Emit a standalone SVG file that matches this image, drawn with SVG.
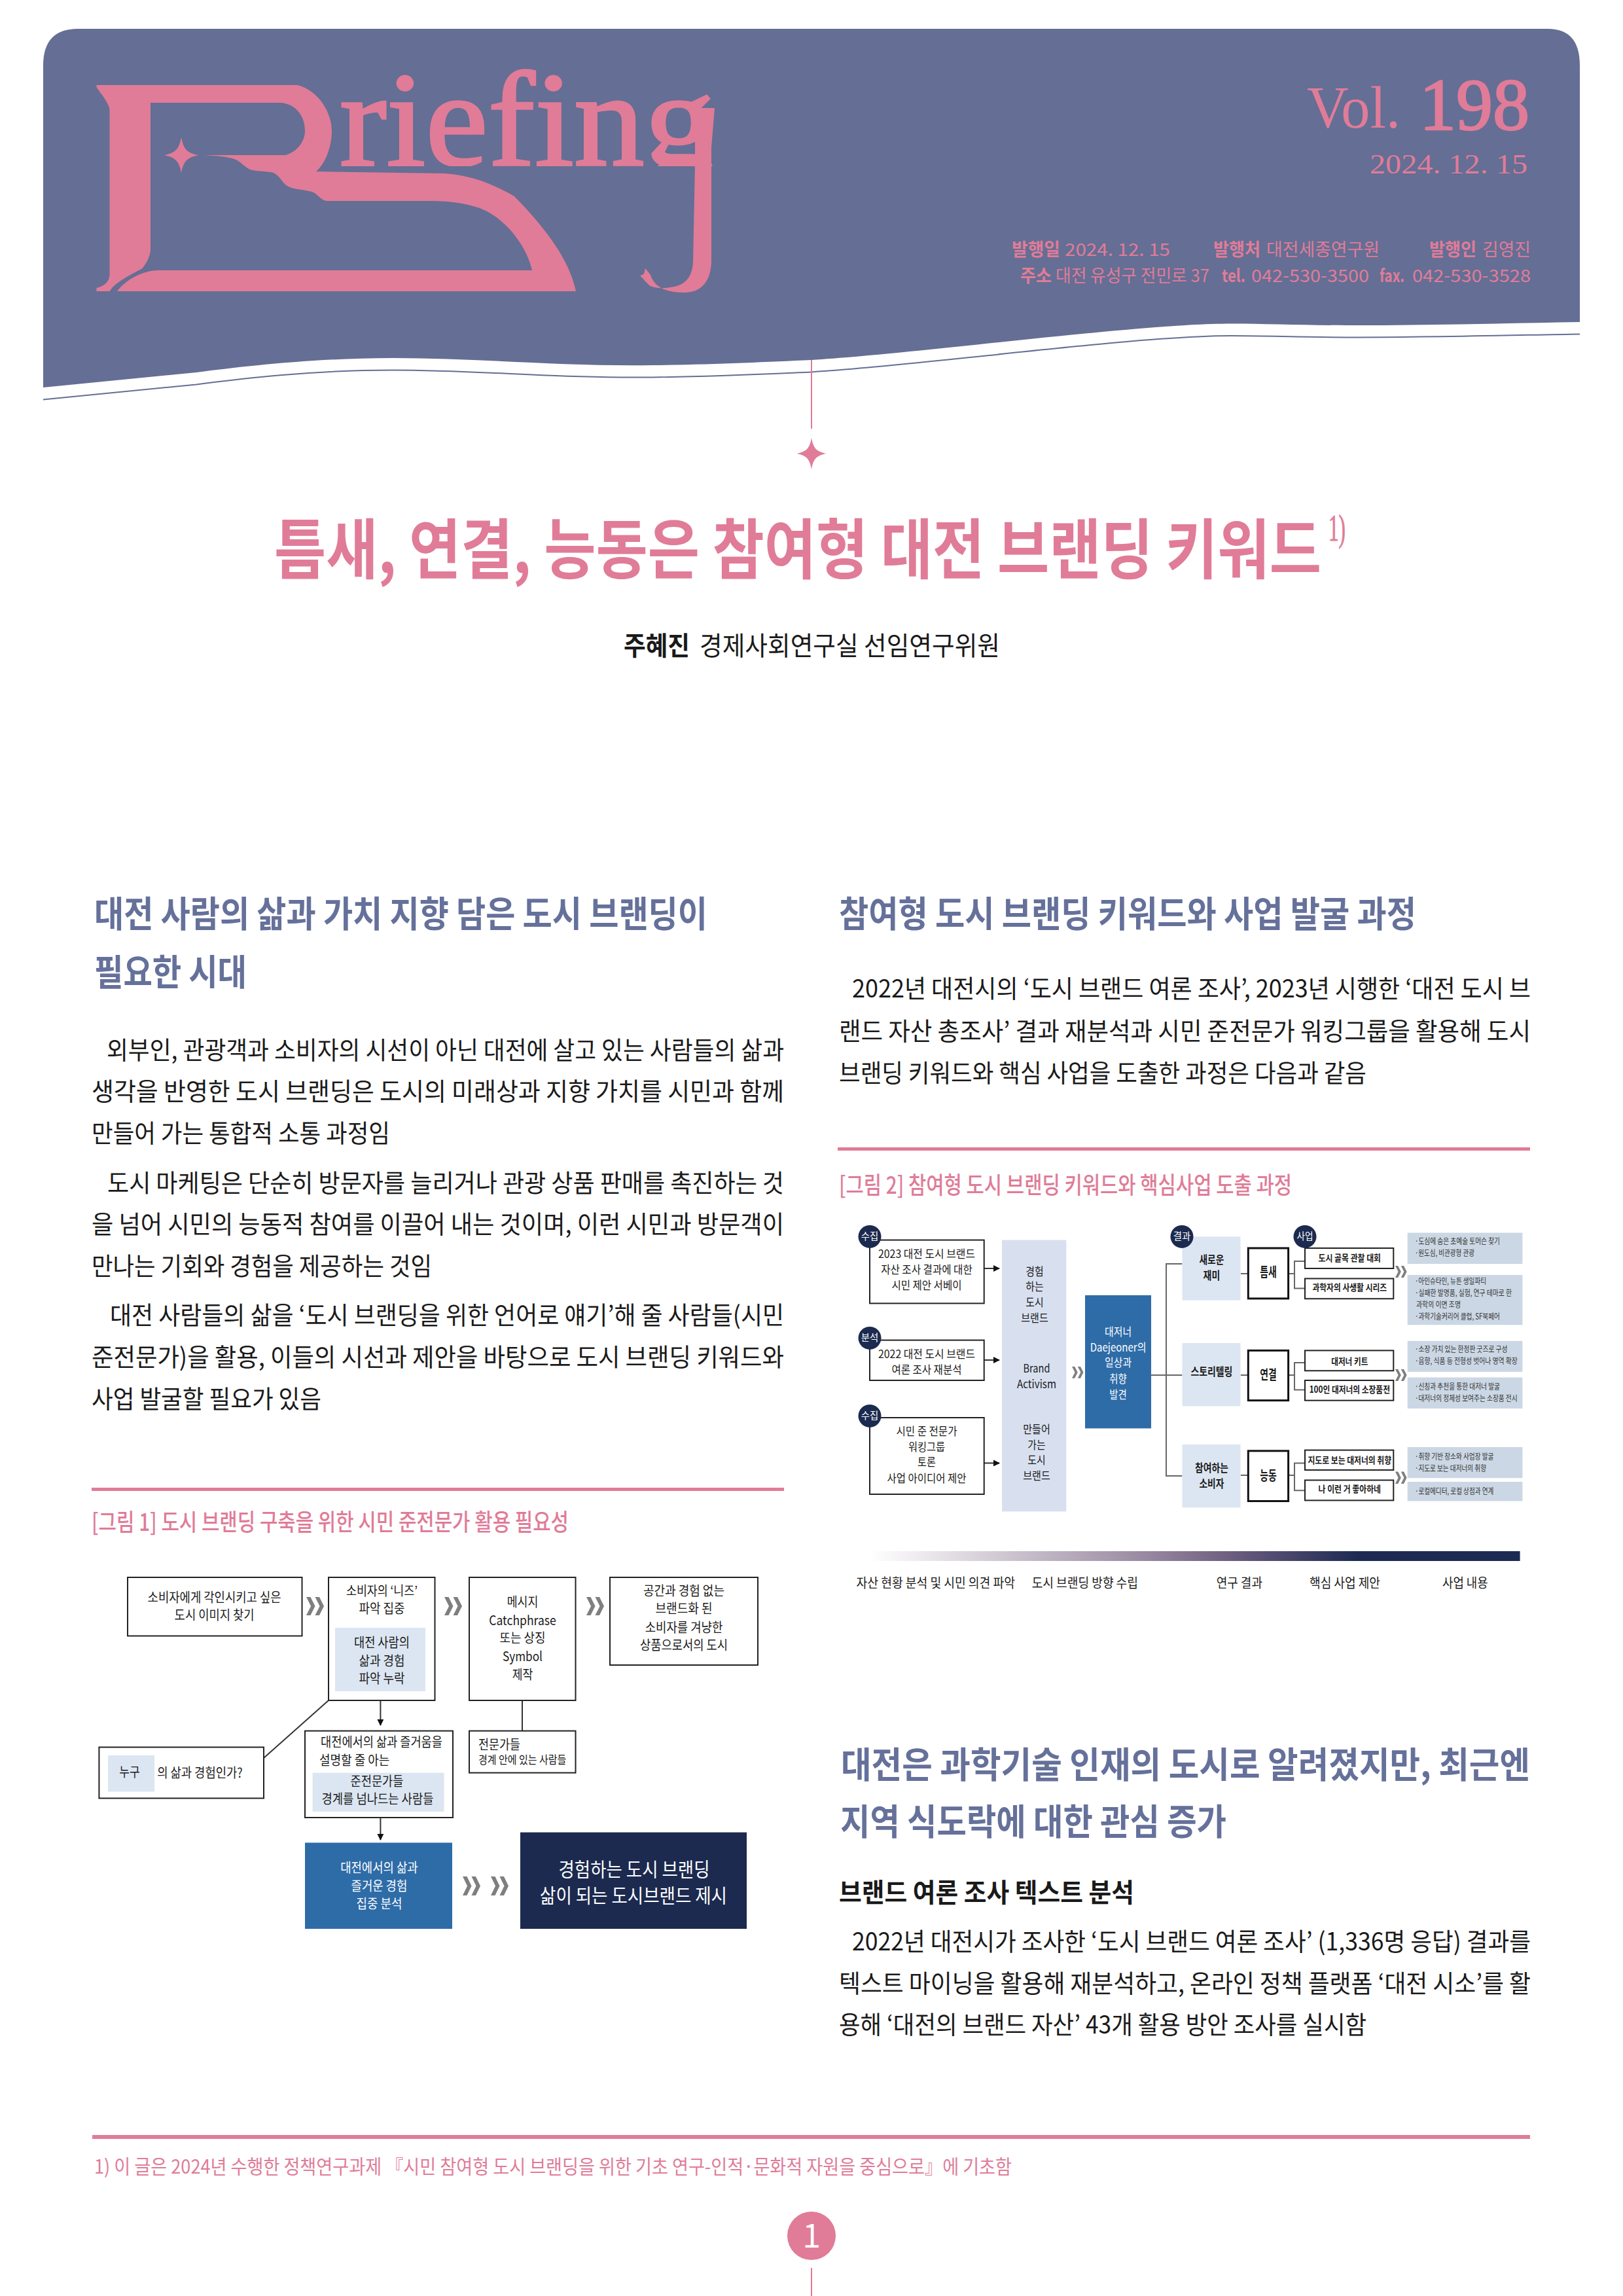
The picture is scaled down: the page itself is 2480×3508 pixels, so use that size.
<svg xmlns="http://www.w3.org/2000/svg" width="2480" height="3508" viewBox="0 0 2480 3508">
<style>
text{font-family:"Noto Sans CJK KR","Noto Sans",sans-serif;fill:#1a1a1a}
.se{font-family:"Liberation Serif","Noto Sans CJK KR",serif;fill:#e07c98}
.p{fill:#e07c98}.ph{fill:#e07c98;font-size:27px}.phb{fill:#e07c98;font-size:27px;font-weight:700}
.h{fill:#65719a;font-size:55px;font-weight:700}
.b{font-size:38px}
.cap{fill:#e07c98;font-size:36px;font-weight:500}
.f1{font-size:20px;text-anchor:middle}
.f2{font-size:17px;text-anchor:middle}
.f2b{font-size:17px;text-anchor:middle;font-weight:700}
.wh{fill:#fff;font-size:20px;text-anchor:middle}
.kw{font-size:20px;text-anchor:middle;font-weight:700}
.it{font-size:14px;text-anchor:middle;font-weight:700}
.d{font-size:12.5px;fill:#333}
.lb{font-size:20px}
.bd{fill:#fff;font-size:15px;text-anchor:middle}
.box{fill:#fff;stroke:#222;stroke-width:2}
.box2{fill:#fff;stroke:#111;stroke-width:3}
.lt{fill:#dce6f2}.gb{fill:#cbd7e4}.bl{fill:#2e6ca8}.nv{fill:#1c2a4f}
.ln{fill:none;stroke:#333;stroke-width:2}
.gl{fill:none;stroke:#666;stroke-width:2}
.ch{fill:#7f7f7f}
</style>
<defs>
<path id="chev" d="M0,0H24L50,50L24,100H0L26,50ZM50,0H74L100,50L74,100H50L76,50Z"/>
<path id="star" d="M0,-24C3,-8 8,-3 24,0C8,3 3,8 0,24C-3,8 -8,3 -24,0C-8,-3 -3,-8 0,-24Z"/>
<marker id="arr" viewBox="0 0 10 10" refX="9" refY="5" markerWidth="5" markerHeight="5" orient="auto"><path d="M0,0L10,5L0,10Z" fill="#111"/></marker>
<clipPath id="logoclip"><rect x="500" y="100" width="600" height="154"/></clipPath>
<linearGradient id="grad" x1="0" x2="1" y1="0" y2="0"><stop offset="0" stop-color="#fff"/><stop offset=".12" stop-color="#e4dfe5"/><stop offset=".42" stop-color="#9a8aa2"/><stop offset=".55" stop-color="#6f5f80"/><stop offset=".75" stop-color="#1e2a52"/><stop offset="1" stop-color="#1c2a54"/></linearGradient>
</defs>

<g id="header">
<path fill="#656e94" d="M66,592L300,569C370,560 480,547 601,547C730,547 860,560 997,558C1090,557 1170,553 1240,550C1400,540 1700,500 1851,495C1900,493 1980,497 2057,497C2180,497 2300,494 2414,492V100Q2414,44 2365,44H119Q66,44 66,100Z"/>
<path fill="none" stroke="#656e94" stroke-width="2" transform="translate(0,18.4)" d="M66,592L300,569C370,560 480,547 601,547C730,547 860,560 997,558C1090,557 1170,553 1240,550C1400,540 1700,500 1851,495C1900,493 1980,497 2057,497C2180,497 2300,494 2414,492"/>
</g>

<g id="logo">
<path class="p" d="M147.500,130H455C490,140 507,175 507,200C507,225 497,250 483,262L680,265C725,268 760,285 786,300C830,345 870,395 880,445H179C190,430 215,413 242.500,413H813C805,375 770,330 730,317C705,309 680,307 655,307H499C490,306 485,296 477,293C462,289 445,290 436,282C428,274 425,265 414,263C400,261 388,262 380,258C370,252 365,244 355,242C340,238 325,238 311,237H436C455,232 466,215 466,200C466,180 455,160 430,157H230V383C228,395 223,403 217.500,410C200,420 177,430 167.500,445H147.500V440C160,437 167,430 167.500,420V167C165,155 155,145 147.500,133Z"/>
<use href="#star" class="p" transform="translate(277,237) scale(1.1,1.15)"/>
<text class="se" clip-path="url(#logoclip)" x="519" y="252" font-size="205" stroke="#e07c98" stroke-width="3.500" textLength="573" lengthAdjust="spacingAndGlyphs" style="font-variant-ligatures:none">riefing</text>
<path class="p" d="M1062,165H1092L1087,225V400C1086,430 1072,447 1045,447C1020,447 1000,440 994,420L986,410L984,420L978,421L992,436C1000,440 1010,442 1030,438C1050,434 1058,420 1059,400L1062,250Z"/>
<use href="#star" class="p" transform="translate(986,421) scale(.28,.45)"/>
</g>

<g id="issue">
<text class="se" x="1997" y="195" font-size="91" textLength="143" lengthAdjust="spacingAndGlyphs">Vol.</text>
<text class="se" x="2169" y="198" font-size="112" stroke="#e07c98" stroke-width="2.500" textLength="168" lengthAdjust="spacingAndGlyphs">198</text>
<text class="se" x="2093" y="265" font-size="43" textLength="241" lengthAdjust="spacingAndGlyphs">2024. 12. 15</text>
<text class="phb" x="1546" y="391" textLength="74" lengthAdjust="spacingAndGlyphs">발행일</text>
<text class="ph" x="1627" y="391" textLength="161" lengthAdjust="spacingAndGlyphs">2024. 12. 15</text>
<text class="phb" x="1854" y="391" textLength="72" lengthAdjust="spacingAndGlyphs">발행처</text>
<text class="ph" x="1935" y="391" textLength="173" lengthAdjust="spacingAndGlyphs">대전세종연구원</text>
<text class="phb" x="2184" y="391" textLength="72" lengthAdjust="spacingAndGlyphs">발행인</text>
<text class="ph" x="2265" y="391" textLength="74" lengthAdjust="spacingAndGlyphs">김영진</text>
<text class="phb" x="1559" y="431" textLength="48" lengthAdjust="spacingAndGlyphs">주소</text>
<text class="ph" x="1613" y="431" textLength="235" lengthAdjust="spacingAndGlyphs">대전 유성구 전민로 37</text>
<text class="phb" x="1867" y="431" textLength="36" lengthAdjust="spacingAndGlyphs">tel.</text>
<text class="ph" x="1912" y="431" textLength="180" lengthAdjust="spacingAndGlyphs">042-530-3500</text>
<text class="phb" x="2108" y="431" textLength="38" lengthAdjust="spacingAndGlyphs">fax.</text>
<text class="ph" x="2158" y="431" textLength="181" lengthAdjust="spacingAndGlyphs">042-530-3528</text>
</g>

<g id="title-connector">
<line x1="1240" y1="550" x2="1240" y2="655" stroke="#e07c98" stroke-width="2"/>
<use href="#star" class="p" transform="translate(1240,693) scale(.95,1)"/>
</g>

<g id="title">
<text class="p" x="419" y="876" font-size="100" font-weight="700" textLength="1600" lengthAdjust="spacingAndGlyphs">틈새, 연결, 능동은 참여형 대전 브랜딩 키워드</text>
<text class="se" x="2030" y="826" font-size="56" stroke="#e07c98" stroke-width="1" textLength="26" lengthAdjust="spacingAndGlyphs">1)</text>
<text x="953" y="1001" font-size="40" font-weight="700" textLength="101" lengthAdjust="spacingAndGlyphs" fill="#111">주혜진</text>
<text x="1069" y="1001" font-size="40" textLength="459" lengthAdjust="spacingAndGlyphs">경제사회연구실 선임연구위원</text>
</g>

<g id="left-column">
<text class="h" x="144" y="1416" textLength="937" lengthAdjust="spacingAndGlyphs">대전 사람의 삶과 가치 지향 담은 도시 브랜딩이</text>
<text class="h" x="144" y="1505" textLength="233" lengthAdjust="spacingAndGlyphs">필요한 시대</text>
<text class="b" x="163" y="1618" textLength="1035" lengthAdjust="spacingAndGlyphs">외부인, 관광객과 소비자의 시선이 아닌 대전에 살고 있는 사람들의 삶과</text>
<text class="b" x="140" y="1681" textLength="1058" lengthAdjust="spacingAndGlyphs">생각을 반영한 도시 브랜딩은 도시의 미래상과 지향 가치를 시민과 함께</text>
<text class="b" x="140" y="1745" textLength="456" lengthAdjust="spacingAndGlyphs">만들어 가는 통합적 소통 과정임</text>
<text class="b" x="164" y="1821" textLength="1034" lengthAdjust="spacingAndGlyphs">도시 마케팅은 단순히 방문자를 늘리거나 관광 상품 판매를 촉진하는 것</text>
<text class="b" x="140" y="1884" textLength="1058" lengthAdjust="spacingAndGlyphs">을 넘어 시민의 능동적 참여를 이끌어 내는 것이며, 이런 시민과 방문객이</text>
<text class="b" x="140" y="1948" textLength="520" lengthAdjust="spacingAndGlyphs">만나는 기회와 경험을 제공하는 것임</text>
<text class="b" x="168" y="2023" textLength="1030" lengthAdjust="spacingAndGlyphs">대전 사람들의 삶을 ‘도시 브랜딩을 위한 언어로 얘기’해 줄 사람들(시민</text>
<text class="b" x="140" y="2087" textLength="1058" lengthAdjust="spacingAndGlyphs">준전문가)을 활용, 이들의 시선과 제안을 바탕으로 도시 브랜딩 키워드와</text>
<text class="b" x="140" y="2151" textLength="351" lengthAdjust="spacingAndGlyphs">사업 발굴할 필요가 있음</text>
<rect class="p" x="140" y="2273" width="1058" height="5"/>
<text class="cap" x="140" y="2339" textLength="729" lengthAdjust="spacingAndGlyphs">[그림 1] 도시 브랜딩 구축을 위한 시민 준전문가 활용 필요성</text>
</g>

<g id="right-column">
<text class="h" x="1282" y="1416" textLength="882" lengthAdjust="spacingAndGlyphs">참여형 도시 브랜딩 키워드와 사업 발굴 과정</text>
<text class="b" x="1302" y="1524" textLength="1037" lengthAdjust="spacingAndGlyphs">2022년 대전시의 ‘도시 브랜드 여론 조사’, 2023년 시행한 ‘대전 도시 브</text>
<text class="b" x="1282" y="1589" textLength="1057" lengthAdjust="spacingAndGlyphs">랜드 자산 총조사’ 결과 재분석과 시민 준전문가 워킹그룹을 활용해 도시</text>
<text class="b" x="1282" y="1653" textLength="806" lengthAdjust="spacingAndGlyphs">브랜딩 키워드와 핵심 사업을 도출한 과정은 다음과 같음</text>
<rect class="p" x="1280" y="1753" width="1058" height="5"/>
<text class="cap" x="1282" y="1824" textLength="692" lengthAdjust="spacingAndGlyphs">[그림 2] 참여형 도시 브랜딩 키워드와 핵심사업 도출 과정</text>
<text class="h" x="1285" y="2716" textLength="1053" lengthAdjust="spacingAndGlyphs">대전은 과학기술 인재의 도시로 알려졌지만, 최근엔</text>
<text class="h" x="1284" y="2803" textLength="590" lengthAdjust="spacingAndGlyphs">지역 식도락에 대한 관심 증가</text>
<text x="1282" y="2906" font-size="40" font-weight="700" textLength="451" lengthAdjust="spacingAndGlyphs" fill="#111">브랜드 여론 조사 텍스트 분석</text>
<text class="b" x="1302" y="2980" textLength="1037" lengthAdjust="spacingAndGlyphs">2022년 대전시가 조사한 ‘도시 브랜드 여론 조사’ (1,336명 응답) 결과를</text>
<text class="b" x="1282" y="3044" textLength="1057" lengthAdjust="spacingAndGlyphs">텍스트 마이닝을 활용해 재분석하고, 온라인 정책 플랫폼 ‘대전 시소’를 활</text>
<text class="b" x="1282" y="3107" textLength="806" lengthAdjust="spacingAndGlyphs">용해 ‘대전의 브랜드 자산’ 43개 활용 방안 조사를 실시함</text>
</g>

<g id="fig1-connectors">
<path class="ln" d="M502,2598L403,2686"/>
<path class="ln" d="M581.400,2598V2636" marker-end="url(#arr)"/>
<path class="ln" d="M581.400,2777V2811" marker-end="url(#arr)"/>
<path class="ln" d="M798,2598V2645"/>
<use href="#chev" class="ch" transform="translate(468,2440) scale(.27,.28)"/>
<use href="#chev" class="ch" transform="translate(679,2440) scale(.27,.28)"/>
<use href="#chev" class="ch" transform="translate(896,2440) scale(.27,.28)"/>
<use href="#chev" class="ch" transform="translate(707,2867) scale(.27,.29)"/>
<use href="#chev" class="ch" transform="translate(750,2867) scale(.27,.29)"/>
</g>
<g id="f1-a"><rect class="box" x="195" y="2410" width="266.500" height="89.500"/>
<text class="f1" x="327.600" y="2448" textLength="204" lengthAdjust="spacingAndGlyphs">소비자에게 각인시키고 싶은</text>
<text class="f1" x="327.600" y="2475" textLength="122" lengthAdjust="spacingAndGlyphs">도시 이미지 찾기</text></g>
<g id="f1-b"><rect class="box" x="502" y="2410" width="162.500" height="188"/><rect class="lt" x="512" y="2487" width="138" height="97"/>
<text class="f1" x="583.500" y="2438" textLength="109" lengthAdjust="spacingAndGlyphs">소비자의 ‘니즈’</text>
<text class="f1" x="583.500" y="2465" textLength="70" lengthAdjust="spacingAndGlyphs">파악 집중</text>
<text class="f1" x="583.500" y="2517" textLength="85" lengthAdjust="spacingAndGlyphs">대전 사람의</text>
<text class="f1" x="583.500" y="2545" textLength="70" lengthAdjust="spacingAndGlyphs">삶과 경험</text>
<text class="f1" x="583.500" y="2572" textLength="70" lengthAdjust="spacingAndGlyphs">파악 누락</text></g>
<g id="f1-c"><rect class="box" x="717" y="2410" width="162.500" height="188"/>
<text class="f1" x="798.500" y="2455" textLength="47.500" lengthAdjust="spacingAndGlyphs">메시지</text>
<text class="f1" x="798.500" y="2483" textLength="102.500" lengthAdjust="spacingAndGlyphs">Catchphrase</text>
<text class="f1" x="798.500" y="2510" textLength="70" lengthAdjust="spacingAndGlyphs">또는 상징</text>
<text class="f1" x="798.500" y="2538" textLength="61" lengthAdjust="spacingAndGlyphs">Symbol</text>
<text class="f1" x="798.500" y="2566" textLength="31.500" lengthAdjust="spacingAndGlyphs">제작</text></g>
<g id="f1-d"><rect class="box" x="932" y="2410" width="226" height="134"/>
<text class="f1" x="1045" y="2438" textLength="124" lengthAdjust="spacingAndGlyphs">공간과 경험 없는</text>
<text class="f1" x="1045" y="2465" textLength="87" lengthAdjust="spacingAndGlyphs">브랜드화 된</text>
<text class="f1" x="1045" y="2494" textLength="118.500" lengthAdjust="spacingAndGlyphs">소비자를 겨냥한</text>
<text class="f1" x="1045" y="2521" textLength="134" lengthAdjust="spacingAndGlyphs">상품으로서의 도시</text></g>
<g id="f1-e"><rect class="box" x="151.400" y="2669.500" width="251.600" height="78"/><rect class="lt" x="165" y="2682" width="71" height="55.500"/>
<text class="f1" x="198" y="2715" textLength="31.500" lengthAdjust="spacingAndGlyphs">누구</text>
<text class="f1" x="305.500" y="2716" textLength="130.600" lengthAdjust="spacingAndGlyphs">의 삶과 경험인가?</text></g>
<g id="f1-f"><rect class="box" x="466" y="2644.600" width="226" height="132.400"/><rect class="lt" x="477.600" y="2708.600" width="201" height="59.400"/>
<text class="f1" x="583" y="2669" textLength="186" lengthAdjust="spacingAndGlyphs">대전에서의 삶과 즐거움을</text>
<text class="f1" x="541.700" y="2697" textLength="107.500" lengthAdjust="spacingAndGlyphs">설명할 줄 아는</text>
<text class="f1" x="576" y="2729" textLength="81" lengthAdjust="spacingAndGlyphs">준전문가들</text>
<text class="f1" x="577" y="2756" textLength="171" lengthAdjust="spacingAndGlyphs">경계를 넘나드는 사람들</text></g>
<g id="f1-g"><rect class="box" x="717" y="2644.600" width="162.500" height="64"/>
<text class="f1" x="763" y="2673" textLength="64" lengthAdjust="spacingAndGlyphs">전문가들</text>
<text class="f2" x="798.200" y="2695" textLength="134.400" lengthAdjust="spacingAndGlyphs">경계 안에 있는 사람들</text></g>
<g id="f1-h"><rect class="bl" x="466" y="2815.400" width="225" height="131.600"/>
<text class="wh" x="579.400" y="2861" textLength="118.500" lengthAdjust="spacingAndGlyphs">대전에서의 삶과</text>
<text class="wh" x="579.400" y="2889" textLength="85.700" lengthAdjust="spacingAndGlyphs">즐거운 경험</text>
<text class="wh" x="579.400" y="2915.600" textLength="70" lengthAdjust="spacingAndGlyphs">집중 분석</text></g>
<g id="f1-i"><rect class="nv" x="795" y="2799.600" width="346" height="147.400"/>
<text class="wh" style="font-size:30px" x="969" y="2867" textLength="231" lengthAdjust="spacingAndGlyphs">경험하는 도시 브랜딩</text>
<text class="wh" style="font-size:30px" x="968" y="2907" textLength="286" lengthAdjust="spacingAndGlyphs">삶이 되는 도시브랜드 제시</text></g>

<g id="fig2-connectors">
<path class="ln" d="M1503.700,1938H1527" marker-end="url(#arr)"/>
<path class="ln" d="M1503.700,2078H1527" marker-end="url(#arr)"/>
<path class="ln" d="M1503.700,2235.400H1527" marker-end="url(#arr)"/>
<path class="gl" d="M1759,2101H1806.500M1806.500,1931H1782V2255H1806.500"/>
<path class="gl" d="M1896,1946H1907M1896,2101H1907M1896,2254H1907"/>
<path class="gl" d="M1968.600,1946H1978M1994,1927H1978V1968.500H1994"/>
<path class="gl" d="M1968.600,2101H1978M1994,2082H1978V2123.500H1994"/>
<path class="gl" d="M1968.600,2254H1978M1994,2235.400H1978V2277.300H1994"/>
<use href="#chev" class="ch" transform="translate(1638,2088) scale(.175,.177)"/>
<use href="#chev" class="ch" transform="translate(2132,1934) scale(.176,.18)"/>
<use href="#chev" class="ch" transform="translate(2132,2092) scale(.176,.18)"/>
<use href="#chev" class="ch" transform="translate(2132,2248.500) scale(.176,.185)"/>
</g>
<g id="f2-collect1"><rect class="box" x="1329" y="1894.600" width="174.700" height="96.800"/>
<text class="f2" x="1416" y="1922" textLength="148" lengthAdjust="spacingAndGlyphs">2023 대전 도시 브랜드</text>
<text class="f2" x="1416" y="1946" textLength="139.600" lengthAdjust="spacingAndGlyphs">자산 조사 결과에 대한</text>
<text class="f2" x="1416" y="1970" textLength="107" lengthAdjust="spacingAndGlyphs">시민 제안 서베이</text>
<circle class="nv" cx="1329" cy="1889.400" r="17.500"/><text class="bd" x="1329" y="1894" textLength="26.500" lengthAdjust="spacingAndGlyphs">수집</text></g>
<g id="f2-analysis"><rect class="box" x="1329" y="2047.600" width="174.700" height="61.400"/>
<text class="f2" x="1416" y="2075" textLength="148" lengthAdjust="spacingAndGlyphs">2022 대전 도시 브랜드</text>
<text class="f2" x="1416" y="2099" textLength="107" lengthAdjust="spacingAndGlyphs">여론 조사 재분석</text>
<circle class="nv" cx="1329" cy="2044.400" r="17.500"/><text class="bd" x="1329" y="2049" textLength="26.500" lengthAdjust="spacingAndGlyphs">분석</text></g>
<g id="f2-collect2"><rect class="box" x="1329" y="2166" width="174.700" height="117"/>
<text class="f2" x="1416" y="2193" textLength="93" lengthAdjust="spacingAndGlyphs">시민 준 전문가</text>
<text class="f2" x="1416" y="2217" textLength="56" lengthAdjust="spacingAndGlyphs">워킹그룹</text>
<text class="f2" x="1416" y="2240" textLength="27.800" lengthAdjust="spacingAndGlyphs">토론</text>
<text class="f2" x="1416" y="2265" textLength="121" lengthAdjust="spacingAndGlyphs">사업 아이디어 제안</text>
<circle class="nv" cx="1329" cy="2163.400" r="17.500"/><text class="bd" x="1329" y="2168" textLength="26.500" lengthAdjust="spacingAndGlyphs">수집</text></g>
<g id="f2-column"><rect x="1531" y="1894.600" width="98.400" height="414.800" fill="#d8e0f0"/>
<text class="f2" x="1581" y="1949" textLength="27.300" lengthAdjust="spacingAndGlyphs">경험</text>
<text class="f2" x="1581" y="1972" textLength="27.300" lengthAdjust="spacingAndGlyphs">하는</text>
<text class="f2" x="1581" y="1996" textLength="27.300" lengthAdjust="spacingAndGlyphs">도시</text>
<text class="f2" x="1581" y="2020" textLength="41.600" lengthAdjust="spacingAndGlyphs">브랜드</text>
<text class="f2" x="1584" y="2097" textLength="41" lengthAdjust="spacingAndGlyphs">Brand</text>
<text class="f2" x="1584" y="2121" textLength="60" lengthAdjust="spacingAndGlyphs">Activism</text>
<text class="f2" x="1584" y="2190" textLength="41.600" lengthAdjust="spacingAndGlyphs">만들어</text>
<text class="f2" x="1584" y="2214" textLength="27.300" lengthAdjust="spacingAndGlyphs">가는</text>
<text class="f2" x="1584" y="2237" textLength="27.300" lengthAdjust="spacingAndGlyphs">도시</text>
<text class="f2" x="1584" y="2261" textLength="41.600" lengthAdjust="spacingAndGlyphs">브랜드</text></g>
<g id="f2-daejeoner"><rect class="bl" x="1658" y="1979" width="101" height="203.400"/>
<text class="wh" style="font-size:17px" x="1708.600" y="2041" textLength="41" lengthAdjust="spacingAndGlyphs">대저너</text>
<text class="wh" style="font-size:17px" x="1708.600" y="2065" textLength="85.700" lengthAdjust="spacingAndGlyphs">Daejeoner의</text>
<text class="wh" style="font-size:17px" x="1708.600" y="2088" textLength="41" lengthAdjust="spacingAndGlyphs">일상과</text>
<text class="wh" style="font-size:17px" x="1708.600" y="2113" textLength="26.500" lengthAdjust="spacingAndGlyphs">취향</text>
<text class="wh" style="font-size:17px" x="1708.600" y="2137" textLength="26.500" lengthAdjust="spacingAndGlyphs">발견</text></g>
<g id="f2-result1"><rect class="lt" x="1806.500" y="1889.400" width="89" height="97.300"/>
<text class="f2b" x="1851.400" y="1931" textLength="38" lengthAdjust="spacingAndGlyphs">새로운</text>
<text class="f2b" x="1851.400" y="1955" textLength="25.700" lengthAdjust="spacingAndGlyphs">재미</text>
<circle class="nv" cx="1806" cy="1889.400" r="17.500"/><text class="bd" x="1806" y="1894" textLength="26.500" lengthAdjust="spacingAndGlyphs">결과</text></g>
<g id="f2-result2"><rect class="lt" x="1806.500" y="2052" width="89" height="96.400"/>
<text class="f2b" x="1851.400" y="2102" textLength="64" lengthAdjust="spacingAndGlyphs">스토리텔링</text></g>
<g id="f2-result3"><rect class="lt" x="1806.500" y="2207" width="89" height="96.400"/>
<text class="f2b" x="1851.400" y="2249" textLength="51" lengthAdjust="spacingAndGlyphs">참여하는</text>
<text class="f2b" x="1851.400" y="2273" textLength="38" lengthAdjust="spacingAndGlyphs">소비자</text></g>
<g id="f2-kw1"><rect class="box2" x="1907.300" y="1907" width="61.300" height="77"/><text class="kw" x="1938" y="1951" textLength="25.600" lengthAdjust="spacingAndGlyphs">틈새</text></g>
<g id="f2-kw2"><rect class="box2" x="1907.300" y="2063.400" width="61.300" height="76.300"/><text class="kw" x="1938" y="2108" textLength="25.600" lengthAdjust="spacingAndGlyphs">연결</text></g>
<g id="f2-kw3"><rect class="box2" x="1907.300" y="2216.800" width="61.300" height="76.700"/><text class="kw" x="1938" y="2262" textLength="25.600" lengthAdjust="spacingAndGlyphs">능동</text></g>
<g id="f2-item1"><rect class="box" x="1994" y="1907" width="135.300" height="31"/><text class="it" x="2062.300" y="1927" textLength="95.500" lengthAdjust="spacingAndGlyphs">도시 골목 관찰 대회</text>
<circle class="nv" cx="1994" cy="1889.400" r="17.500"/><text class="bd" x="1994" y="1894" textLength="25" lengthAdjust="spacingAndGlyphs">사업</text></g>
<g id="f2-item2"><rect class="box" x="1994" y="1953.500" width="135.300" height="30.800"/><text class="it" x="2062.300" y="1972" textLength="113.700" lengthAdjust="spacingAndGlyphs">과학자의 사생활 시리즈</text></g>
<g id="f2-item3"><rect class="box" x="1994" y="2063.400" width="135.300" height="30.900"/><text class="it" x="2062.300" y="2085" textLength="56.200" lengthAdjust="spacingAndGlyphs">대저너 키트</text></g>
<g id="f2-item4"><rect class="box" x="1994" y="2109" width="135.300" height="30.700"/><text class="it" x="2062.300" y="2128" textLength="123.300" lengthAdjust="spacingAndGlyphs">100인 대저너의 소장품전</text></g>
<g id="f2-item5"><rect class="box" x="1994" y="2215.600" width="135.300" height="30.400"/><text class="it" x="2062.300" y="2236" textLength="127.600" lengthAdjust="spacingAndGlyphs">지도로 보는 대저너의 취향</text></g>
<g id="f2-item6"><rect class="box" x="1994" y="2261.500" width="135.300" height="30.900"/><text class="it" x="2062.300" y="2280" textLength="95.500" lengthAdjust="spacingAndGlyphs">나 이런 거 좋아하네</text></g>
<g id="f2-desc1"><rect class="gb" x="2150.700" y="1883.500" width="175.700" height="47.500"/>
<text class="d" x="2162" y="1901" textLength="130" lengthAdjust="spacingAndGlyphs">·도심에 숨은 초예술 토머슨 찾기</text>
<text class="d" x="2162" y="1919" textLength="91" lengthAdjust="spacingAndGlyphs">·원도심, 비관광형 관광</text></g>
<g id="f2-desc2"><rect class="gb" x="2150.700" y="1948" width="175.700" height="76.300"/>
<text class="d" x="2162" y="1962" textLength="109" lengthAdjust="spacingAndGlyphs">·아인슈타인, 뉴튼 생일파티</text>
<text class="d" x="2162" y="1980" textLength="148" lengthAdjust="spacingAndGlyphs">·실패한 발명품, 실험, 연구 테마로 한</text>
<text class="d" x="2164" y="1998" textLength="68" lengthAdjust="spacingAndGlyphs">과학의 이면 조명</text>
<text class="d" x="2162" y="2016" textLength="130" lengthAdjust="spacingAndGlyphs">·과학기술커리어 클럽, SF북페어</text></g>
<g id="f2-desc3"><rect class="gb" x="2150.700" y="2048.800" width="175.700" height="47.200"/>
<text class="d" x="2162" y="2066" textLength="141.400" lengthAdjust="spacingAndGlyphs">·소장 가치 있는 한정판 굿즈로 구성</text>
<text class="d" x="2162" y="2084" textLength="156.700" lengthAdjust="spacingAndGlyphs">·음향, 식품 등 전형성 벗어나 영역 확장</text></g>
<g id="f2-desc4"><rect class="gb" x="2150.700" y="2104.500" width="175.700" height="47.500"/>
<text class="d" x="2162" y="2123" textLength="130" lengthAdjust="spacingAndGlyphs">·신칭과 추천을 통한 대저너 발굴</text>
<text class="d" x="2162" y="2141" textLength="156.700" lengthAdjust="spacingAndGlyphs">·대저너의 정체성 보여주는 소장품 전시</text></g>
<g id="f2-desc5"><rect class="gb" x="2150.700" y="2211" width="175.700" height="47.300"/>
<text class="d" x="2162" y="2230" textLength="120.400" lengthAdjust="spacingAndGlyphs">·취향 기반 장소와 사업장 발굴</text>
<text class="d" x="2162" y="2248" textLength="109" lengthAdjust="spacingAndGlyphs">·지도로 보는 대저너의 취향</text></g>
<g id="f2-desc6"><rect class="gb" x="2150.700" y="2264" width="175.700" height="29.500"/>
<text class="d" x="2162" y="2283" textLength="120.400" lengthAdjust="spacingAndGlyphs">·로컬에디터, 로컬 상점과 연계</text></g>
<g id="f2-axis"><rect x="1329" y="2370" width="993.600" height="15" fill="url(#grad)"/>
<text class="lb" x="1308.600" y="2426" textLength="242.400" lengthAdjust="spacingAndGlyphs">자산 현황 분석 및 시민 의견 파악</text>
<text class="lb" x="1576.700" y="2426" textLength="162.300" lengthAdjust="spacingAndGlyphs">도시 브랜딩 방향 수립</text>
<text class="lb" x="1858.700" y="2426" textLength="70.300" lengthAdjust="spacingAndGlyphs">연구 결과</text>
<text class="lb" x="2001" y="2426" textLength="108" lengthAdjust="spacingAndGlyphs">핵심 사업 제안</text>
<text class="lb" x="2204" y="2426" textLength="69.600" lengthAdjust="spacingAndGlyphs">사업 내용</text></g>

<g id="footer">
<rect class="p" x="141" y="3262" width="2197" height="6"/>
<text class="p" x="144" y="3321" font-size="30" textLength="1402" lengthAdjust="spacingAndGlyphs">1) 이 글은 2024년 수행한 정책연구과제 『시민 참여형 도시 브랜딩을 위한 기초 연구-인적·문화적 자원을 중심으로』에 기초함</text>
<circle class="p" cx="1240" cy="3416" r="37"/>
<text x="1240" y="3434" font-size="50" text-anchor="middle" style="fill:#fff">1</text>
<line x1="1240" y1="3465" x2="1240" y2="3508" stroke="#e07c98" stroke-width="2"/>
</g>
</svg>
